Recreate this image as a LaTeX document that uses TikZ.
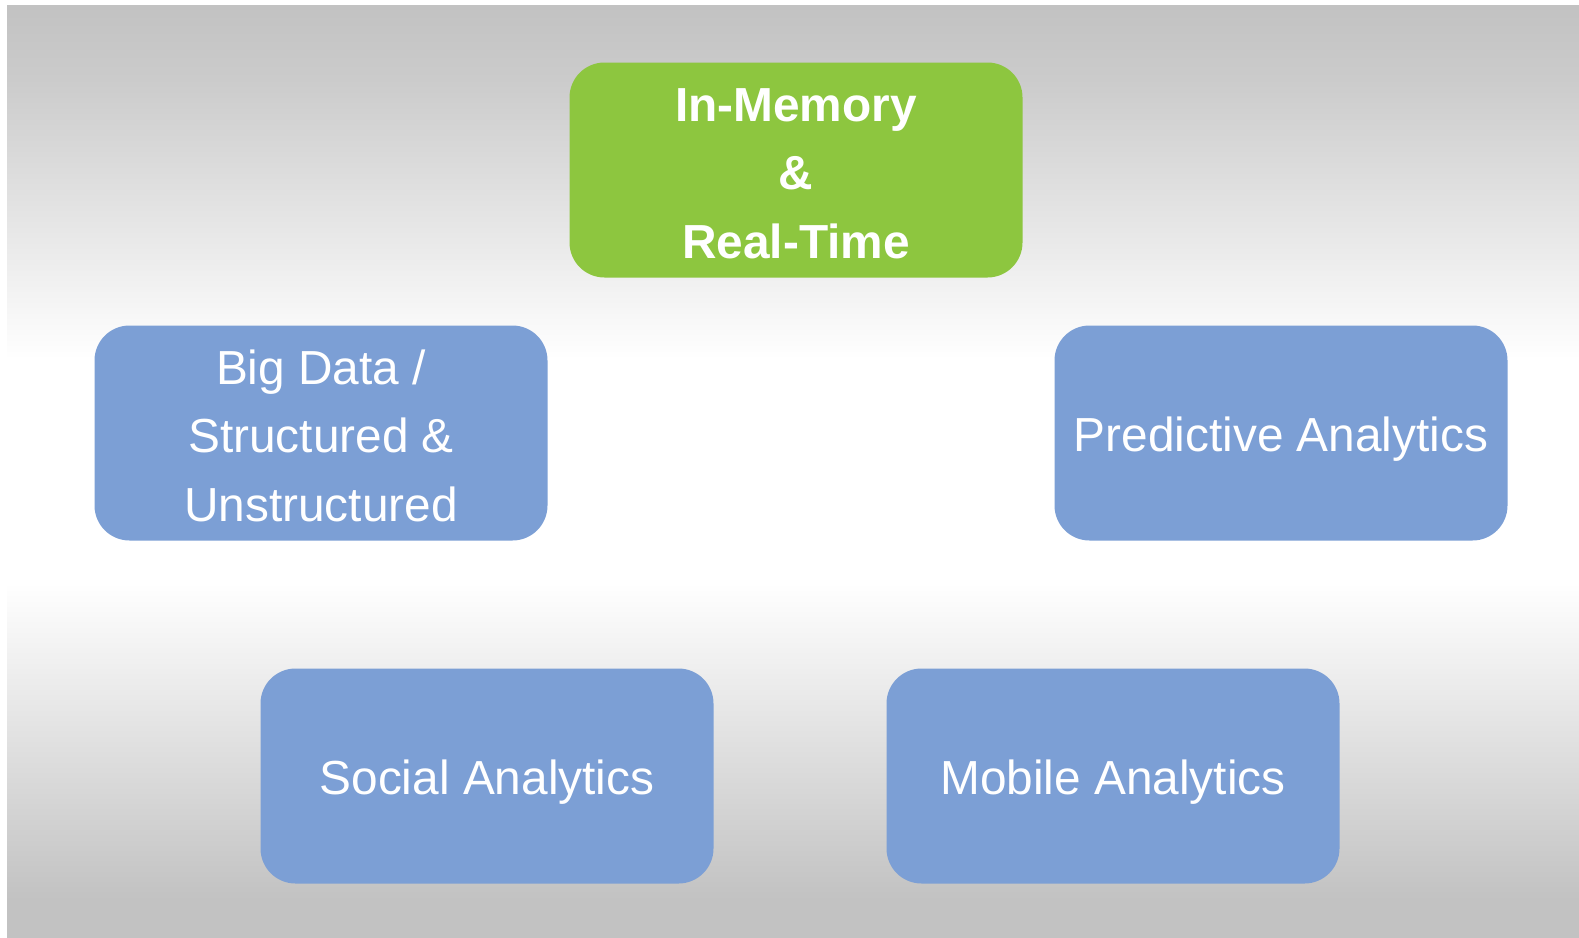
\documentclass[tikz,border=0pt]{standalone}
\usepackage{fontspec}
\setmainfont{Liberation Sans}
\usetikzlibrary{positioning}

\definecolor{bggray}{HTML}{C2C2C2}
\definecolor{boxgreen}{HTML}{8DC63F}
\definecolor{boxblue}{HTML}{7C9FD5}

% fade from grey at the edges to white in the middle
\pgfdeclareverticalshading{bgfade}{100bp}{color(0bp)=(bggray); color(27bp)=(bggray);
  color(44bp)=(white); color(56bp)=(white); color(71bp)=(bggray!85!white); color(75bp)=(bggray); color(100bp)=(bggray)}

\tikzset{
  topic/.style={rounded corners=0.35cm, minimum width=4.53cm, minimum height=2.15cm,
    text=white, align=center, inner sep=0pt,
    font=\fontsize{13.6}{19.5}\selectfont},
  oneline/.style={text height=0.37cm, text depth=0pt},
  threeline/.style={text height=1.77cm, text depth=0pt},
  bluebox/.style={topic, fill=boxblue},
  greenbox/.style={topic, fill=boxgreen, font=\fontsize{13.6}{19.5}\selectfont\bfseries},
}

\begin{document}
\begin{tikzpicture}
\def\W{15.79}
\def\H{9.37}

\useasboundingbox (0,0) rectangle (\W,\H);
\fill[white] (0,0) rectangle (\W,\H);
\shade[shading=bgfade] (0.07,0) rectangle (\W,9.32);

\coordinate (top) at (7.96,7.67);
\coordinate (midL) at (3.21,5.04);
\coordinate (midR) at (12.81,5.04);
\coordinate (lowL) at (4.87,1.61);
\coordinate (lowR) at (11.13,1.61);

\node[greenbox, threeline] (memory) at (top) {In-Memory\\\&\\Real-Time};
\node[bluebox, threeline] (bigdata) at (midL) {Big Data /\\Structured \&\\Unstructured};
\node[bluebox, oneline] (predictive) at (midR) {Predictive Analytics};
\node[bluebox, oneline] (social) at (lowL) {Social Analytics};
\node[bluebox, oneline] (mobile) at (lowR) {Mobile Analytics};
\end{tikzpicture}
\end{document}
